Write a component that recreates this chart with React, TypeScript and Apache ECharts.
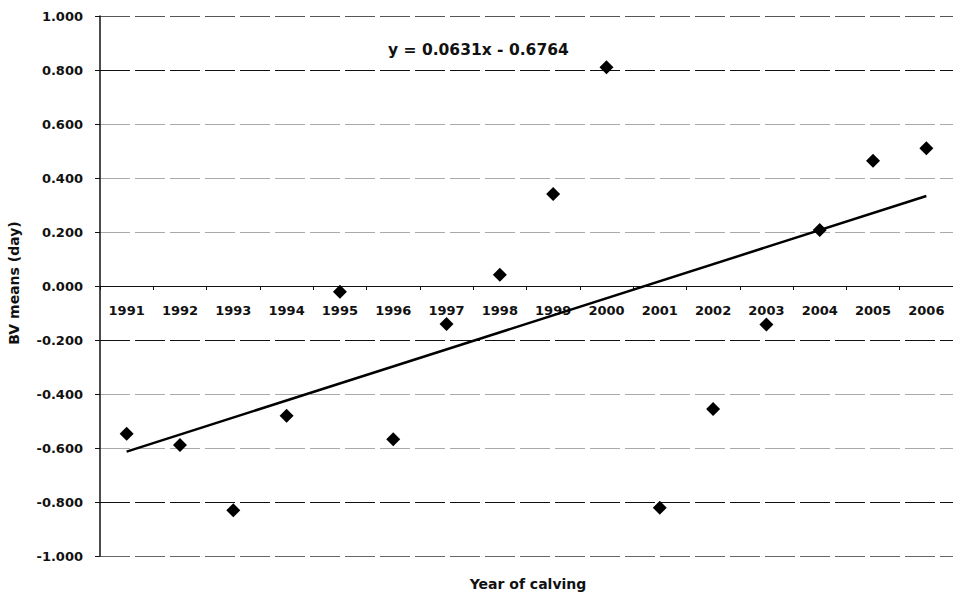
import React, { useEffect, useRef } from "react";
import * as echarts from "echarts";

const categories = ["1991", "1992", "1993", "1994", "1995", "1996", "1997", "1998", "1999", "2000", "2001", "2002", "2003", "2004", "2005", "2006"];
const bvMeans = [-0.547, -0.589, -0.831, -0.481, -0.021, -0.568, -0.141, 0.042, 0.341, 0.81, -0.821, -0.456, -0.143, 0.207, 0.464, 0.51];
const trendSlope = 0.0631;
const trendIntercept = -0.6764;
const trendLabel = "y = 0.0631x - 0.6764";
const yAxisTitle = "BV means (day)";
const xAxisTitle = "Year of calving";

const FONT = "'DejaVu Sans', 'Liberation Sans', Arial, sans-serif";

export default function App() {
  const ref = useRef<HTMLDivElement>(null);
  useEffect(() => {
    if (!ref.current) return;
    const chart = echarts.init(ref.current, null, { renderer: "svg" });
    const n = categories.length;
    const trendStart = trendSlope * 1 + trendIntercept;
    const trendEnd = trendSlope * n + trendIntercept;
    const gridTop = 16;
    const gridBottom = 38;
    const gridHeight = 594 - gridTop - gridBottom;
    chart.setOption({
      animation: false,
      backgroundColor: "#ffffff",
      grid: { left: 100, right: -8, top: gridTop, bottom: gridBottom },
      xAxis: {
        type: "category",
        data: categories,
        boundaryGap: true,
        position: "bottom",
        offset: -gridHeight / 2,
        axisLine: { show: true, onZero: false, lineStyle: { color: "#111", width: 1.2 } },
        axisTick: { show: true, length: 4, lineStyle: { color: "#111" } },
        axisLabel: { color: "#111", fontFamily: FONT, fontWeight: "bold", fontSize: 13, margin: 18, interval: 0 },
        splitLine: { show: false },
      },
      yAxis: {
        type: "value",
        min: -1,
        max: 1,
        interval: 0.2,
        axisLine: { show: true, lineStyle: { color: "#111", width: 1.5 } },
        axisTick: { show: true, length: 5, lineStyle: { color: "#111" } },
        axisLabel: {
          color: "#111",
          fontFamily: FONT,
          fontWeight: "bold",
          fontSize: 13,
          margin: 17,
          formatter: (v: number) => v.toFixed(3),
        },
        splitLine: {
          show: true,
          lineStyle: {
            color: ["#666", "#111", "#aaa", "#aaa", "#111", "#111", "#aaa", "#aaa", "#aaa", "#111", "#555"],
            width: 1,
            type: [30, 5],
          },
        },
      },
      graphic: [
        {
          type: "text",
          left: 388,
          top: 42,
          style: { text: trendLabel, fill: "#111", font: `bold 15.5px ${FONT}` },
        },
        {
          type: "text",
          x: 528,
          y: 584,
          style: { text: xAxisTitle, fill: "#111", font: `bold 14px ${FONT}`, align: "center", verticalAlign: "middle" },
        },
        {
          type: "text",
          x: 14,
          y: 283,
          rotation: Math.PI / 2,
          style: { text: yAxisTitle, fill: "#111", font: `bold 14px ${FONT}`, align: "center", verticalAlign: "middle" },
        },
      ],
      series: [
        {
          type: "scatter",
          data: bvMeans,
          symbol: "diamond",
          symbolSize: 14,
          itemStyle: { color: "#000", opacity: 1 },
          z: 5,
          markLine: {
            silent: true,
            symbol: "none",
            label: { show: false },
            lineStyle: { color: "#000", width: 2.5, type: "solid", opacity: 1 },
            data: [[{ coord: [categories[0], trendStart] }, { coord: [categories[n - 1], trendEnd] }]],
          },
        },
      ],
    });
    return () => chart.dispose();
  }, []);
  return <div ref={ref} style={{ position: "absolute", left: 0, top: 0, width: 953, height: 594, background: "#fff" }} />;
}
